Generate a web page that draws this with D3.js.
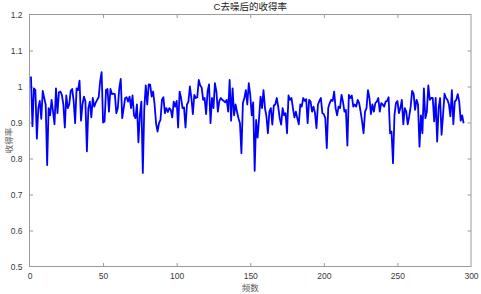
<!DOCTYPE html>
<html>
<head>
<meta charset="utf-8">
<script src="https://cdn.jsdelivr.net/npm/d3@7"></script>
<style>
  body { margin: 0; background: #fff; }
  svg { display: block; }
</style>
</head>
<body>
<div id="chart"></div>
<script>
// chart texts
const TITLE = 'C去噪后的收得率';
const X_LABEL = '频数';
const Y_LABEL = '收得率';

// axis ticks
const xTicks = [0, 50, 100, 150, 200, 250, 300];
const yTicks = [0.5, 0.6, 0.7, 0.8, 0.9, 1.0, 1.1, 1.2];

// yield after denoising, one value per frequency 1..295
const yieldValues = [
  1.028, 0.890, 0.995, 0.990, 0.855, 0.940, 0.960, 0.910, 0.988, 0.968,
  0.950, 0.782, 0.940, 0.920, 0.963, 0.930, 0.895, 0.995, 0.926, 0.984,
  0.986, 0.977, 0.950, 0.886, 0.975, 0.940, 0.950, 0.988, 0.993, 0.960,
  0.898, 0.995, 0.990, 1.016, 0.905, 0.950, 0.972, 0.958, 0.820, 0.940,
  0.958, 0.914, 0.968, 0.944, 0.955, 0.963, 0.970, 1.014, 1.040, 0.900,
  0.903, 0.990, 0.993, 0.930, 0.993, 0.979, 0.980, 0.979, 0.926, 0.940,
  0.995, 1.021, 0.912, 0.940, 0.968, 0.970, 0.958, 0.972, 0.940, 0.975,
  0.920, 0.912, 0.950, 0.845, 0.920, 0.958, 0.760, 0.940, 1.003, 0.950,
  1.006, 1.005, 0.972, 0.986, 0.950, 0.898, 0.875, 0.898, 0.907, 0.963,
  0.970, 0.926, 0.940, 0.929, 0.940, 0.935, 0.914, 0.958, 0.944, 0.960,
  0.886, 0.986, 0.968, 0.940, 0.942, 0.886, 0.950, 0.958, 1.000, 0.968,
  0.923, 0.977, 0.968, 0.970, 1.018, 1.003, 0.997, 0.963, 0.968, 0.923,
  0.986, 1.006, 0.898, 0.968, 0.940, 1.009, 0.986, 0.930, 0.960, 0.968,
  0.963, 0.960, 0.956, 0.963, 0.930, 1.018, 0.905, 0.995, 0.920, 0.950,
  0.930, 0.912, 0.898, 0.815, 0.954, 0.968, 0.990, 0.950, 1.009, 0.977,
  0.920, 0.956, 0.766, 0.907, 0.858, 0.912, 0.972, 0.940, 0.990, 0.940,
  0.917, 0.870, 0.930, 0.940, 0.894, 0.947, 0.950, 0.968, 0.944, 0.912,
  0.894, 0.940, 0.920, 0.926, 0.870, 0.975, 0.963, 0.968, 0.940, 0.914,
  0.930, 0.912, 0.895, 0.950, 0.944, 0.968, 0.960, 0.965, 0.898, 0.963,
  0.958, 0.930, 0.944, 0.926, 0.884, 0.950, 0.960, 0.968, 0.926, 0.923,
  0.912, 0.829, 0.940, 0.954, 0.963, 0.960, 0.986, 0.940, 0.920, 0.944,
  0.940, 0.977, 0.958, 0.930, 0.935, 0.836, 0.977, 0.968, 0.975, 0.944,
  0.950, 0.944, 0.963, 0.954, 0.930, 0.903, 0.870, 0.930, 0.940, 0.990,
  0.968, 0.923, 0.950, 0.930, 0.954, 0.958, 0.968, 0.930, 0.954, 0.950,
  0.944, 0.958, 0.960, 0.970, 0.870, 0.875, 0.787, 0.920, 0.954, 0.960,
  0.926, 0.940, 0.963, 0.895, 0.940, 0.930, 0.895, 0.917, 0.944, 0.988,
  0.980, 0.935, 0.963, 0.950, 0.833, 0.920, 0.870, 0.995, 0.912, 0.930,
  1.003, 0.963, 0.968, 0.968, 0.903, 0.968, 0.847, 0.940, 0.968, 0.866,
  0.920, 0.980, 0.968, 0.963, 0.950, 0.917, 0.990, 0.895, 0.958, 0.963,
  0.979, 0.958, 0.905, 0.920, 0.898
];

const WIDTH = 481;
const HEIGHT = 294;
const PLOT = { left: 29.5, right: 471, top: 14.5, bottom: 266.5 };
const AXIS_COLOR = '#9a9a9a';
const TEXT_COLOR = '#3a3a3a';
const LINE_COLOR = '#0000ff';
const TICK_LEN = 3.5;
const LATIN_FONT = '"Liberation Sans", Arial, sans-serif';
const CJK_FONT = '"Noto Sans CJK SC", sans-serif';

const svg = d3.select('#chart')
  .append('svg')
    .attr('width', WIDTH)
    .attr('height', HEIGHT);

const x = d3.scaleLinear()
  .domain([0, 300])
  .range([PLOT.left, PLOT.right]);

const y = d3.scaleLinear()
  .domain([0.5, 1.2])
  .range([PLOT.bottom, PLOT.top]);

const plotW = PLOT.right - PLOT.left;
const plotH = PLOT.bottom - PLOT.top;

// bottom axis with inward ticks (MATLAB style)
const xAxis = svg.append('g')
  .attr('transform', `translate(0, ${PLOT.bottom})`)
  .call(d3.axisBottom(x).tickValues(xTicks).tickSize(-TICK_LEN).tickPadding(6).tickFormat(d3.format('d')));

// top axis, ticks only
const xTop = svg.append('g')
  .attr('transform', `translate(0, ${PLOT.top})`)
  .call(d3.axisTop(x).tickValues(xTicks).tickSize(-TICK_LEN).tickFormat(''));

// left axis
const yAxis = svg.append('g')
  .attr('transform', `translate(${PLOT.left}, 0)`)
  .call(d3.axisLeft(y).tickValues(yTicks).tickSize(-TICK_LEN).tickPadding(7)
    .tickFormat(d => d === 1 ? '1' : d3.format('.1f')(d)));

// right axis, ticks only
const yRight = svg.append('g')
  .attr('transform', `translate(${PLOT.right}, 0)`)
  .call(d3.axisRight(y).tickValues(yTicks).tickSize(-TICK_LEN).tickFormat(''));

[xAxis, xTop, yAxis, yRight].forEach(g => {
  g.select('.domain').remove();
  g.selectAll('line').attr('stroke', AXIS_COLOR);
  g.selectAll('text')
    .attr('fill', TEXT_COLOR)
    .style('font-family', LATIN_FONT)
    .style('font-size', '8.5px');
});

// hide end ticks that sit on the box
xAxis.selectAll('.tick').filter(d => d === 0 || d === 300).select('line').remove();
xTop.selectAll('.tick').filter(d => d === 0 || d === 300).select('line').remove();
yAxis.selectAll('.tick').filter(d => d === 0.5 || d === 1.2).select('line').remove();
yRight.selectAll('.tick').filter(d => d === 0.5 || d === 1.2).select('line').remove();

// box
svg.append('rect')
  .attr('x', PLOT.left)
  .attr('y', PLOT.top)
  .attr('width', plotW)
  .attr('height', plotH)
  .attr('fill', 'none')
  .attr('stroke', AXIS_COLOR)
  .attr('stroke-width', 1);

// the line
const line = d3.line()
  .x((d, i) => x(i + 1))
  .y(d => y(d));

svg.append('path')
  .datum(yieldValues)
  .attr('d', line)
  .attr('fill', 'none')
  .attr('stroke', LINE_COLOR)
  .attr('stroke-width', 1.8)
  .attr('stroke-linejoin', 'round');

// title and labels
svg.append('text')
  .attr('x', (PLOT.left + PLOT.right) / 2)
  .attr('y', 10)
  .attr('text-anchor', 'middle')
  .attr('fill', '#222')
  .style('font-family', `${LATIN_FONT.split(',')[0]}, ${CJK_FONT}`)
  .style('font-size', '9.5px')
  .text(TITLE);

svg.append('text')
  .attr('x', (PLOT.left + PLOT.right) / 2)
  .attr('y', 291)
  .attr('text-anchor', 'middle')
  .attr('fill', '#555')
  .style('font-family', CJK_FONT)
  .style('font-size', '8.5px')
  .text(X_LABEL);

svg.append('text')
  .attr('transform', `translate(12, ${(PLOT.top + PLOT.bottom) / 2}) rotate(-90)`)
  .attr('text-anchor', 'middle')
  .attr('fill', '#555')
  .style('font-family', CJK_FONT)
  .style('font-size', '8.5px')
  .text(Y_LABEL);
</script>
</body>
</html>
